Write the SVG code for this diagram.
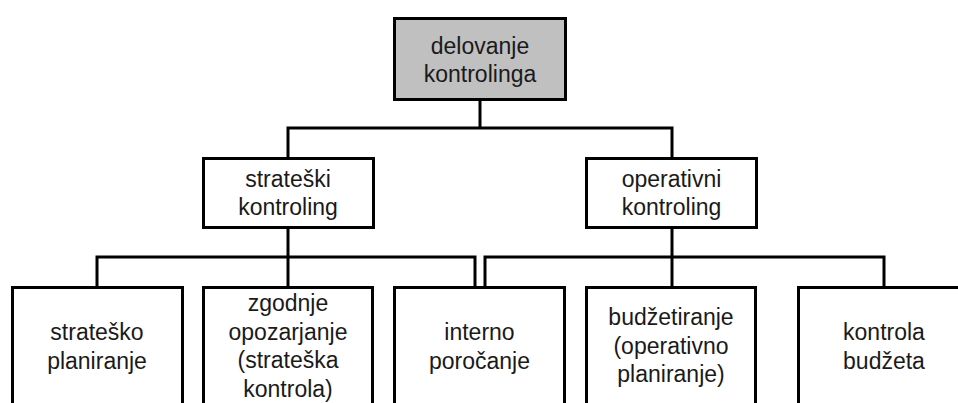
<svg xmlns="http://www.w3.org/2000/svg" width="958" height="403" viewBox="0 0 958 403">
  <style>
    .box { fill: #ffffff; stroke: #000000; stroke-width: 3; }
    .root { fill: #c0c0c0; }
    .lbl { font-family: "Liberation Sans", Arial, sans-serif; font-size: 23px; fill: #1a1a1a; text-anchor: middle; }
    .wire { fill: none; stroke: #000000; stroke-width: 3; stroke-linejoin: miter; }
  </style>
  <rect x="0" y="0" width="958" height="403" fill="#ffffff"/>

  <!-- connectors -->
  <g id="connectors">
    <line class="wire" x1="480" y1="100" x2="480" y2="128"/>
    <polyline class="wire" points="288,158 288,128 672,128 672,158"/>
    <line class="wire" x1="288" y1="228" x2="288" y2="287"/>
    <polyline class="wire" points="97,287 97,257 475,257 475,287"/>
    <line class="wire" x1="672" y1="228" x2="672" y2="287"/>
    <polyline class="wire" points="485,287 485,257 884,257 884,287"/>
  </g>

  <!-- top level -->
  <g id="delovanje-kontrolinga">
    <rect class="box root" x="394.5" y="18.5" width="171" height="81"/>
    <text class="lbl" x="480" y="54">delovanje</text>
    <text class="lbl" x="480" y="82">kontrolinga</text>
  </g>

  <!-- second level -->
  <g id="strateski-kontroling">
    <rect class="box" x="203.5" y="158.5" width="170" height="69"/>
    <text class="lbl" x="288" y="187">strateški</text>
    <text class="lbl" x="288" y="215">kontroling</text>
  </g>
  <g id="operativni-kontroling">
    <rect class="box" x="586.5" y="158.5" width="170" height="69"/>
    <text class="lbl" x="671.5" y="187">operativni</text>
    <text class="lbl" x="671.5" y="215">kontroling</text>
  </g>

  <!-- third level -->
  <g id="stratesko-planiranje">
    <rect class="box" x="12.5" y="287.5" width="170" height="140"/>
    <text class="lbl" x="97" y="340">strateško</text>
    <text class="lbl" x="97" y="368.5">planiranje</text>
  </g>
  <g id="zgodnje-opozarjanje">
    <rect class="box" x="203.5" y="287.5" width="169" height="140"/>
    <text class="lbl" x="288" y="311">zgodnje</text>
    <text class="lbl" x="288" y="339.5">opozarjanje</text>
    <text class="lbl" x="288" y="368">(strateška</text>
    <text class="lbl" x="288" y="396.5">kontrola)</text>
  </g>
  <g id="interno-porocanje">
    <rect class="box" x="394.5" y="287.5" width="170" height="140"/>
    <text class="lbl" x="479.5" y="340">interno</text>
    <text class="lbl" x="479.5" y="368.5">poročanje</text>
  </g>
  <g id="budzetiranje">
    <rect class="box" x="586.5" y="287.5" width="169" height="140"/>
    <text class="lbl" x="671" y="325">budžetiranje</text>
    <text class="lbl" x="671" y="353.5">(operativno</text>
    <text class="lbl" x="671" y="382">planiranje)</text>
  </g>
  <g id="kontrola-budzeta">
    <rect class="box" x="798.5" y="287.5" width="171" height="140"/>
    <text class="lbl" x="884" y="340">kontrola</text>
    <text class="lbl" x="884" y="368.5">budžeta</text>
  </g>
</svg>
